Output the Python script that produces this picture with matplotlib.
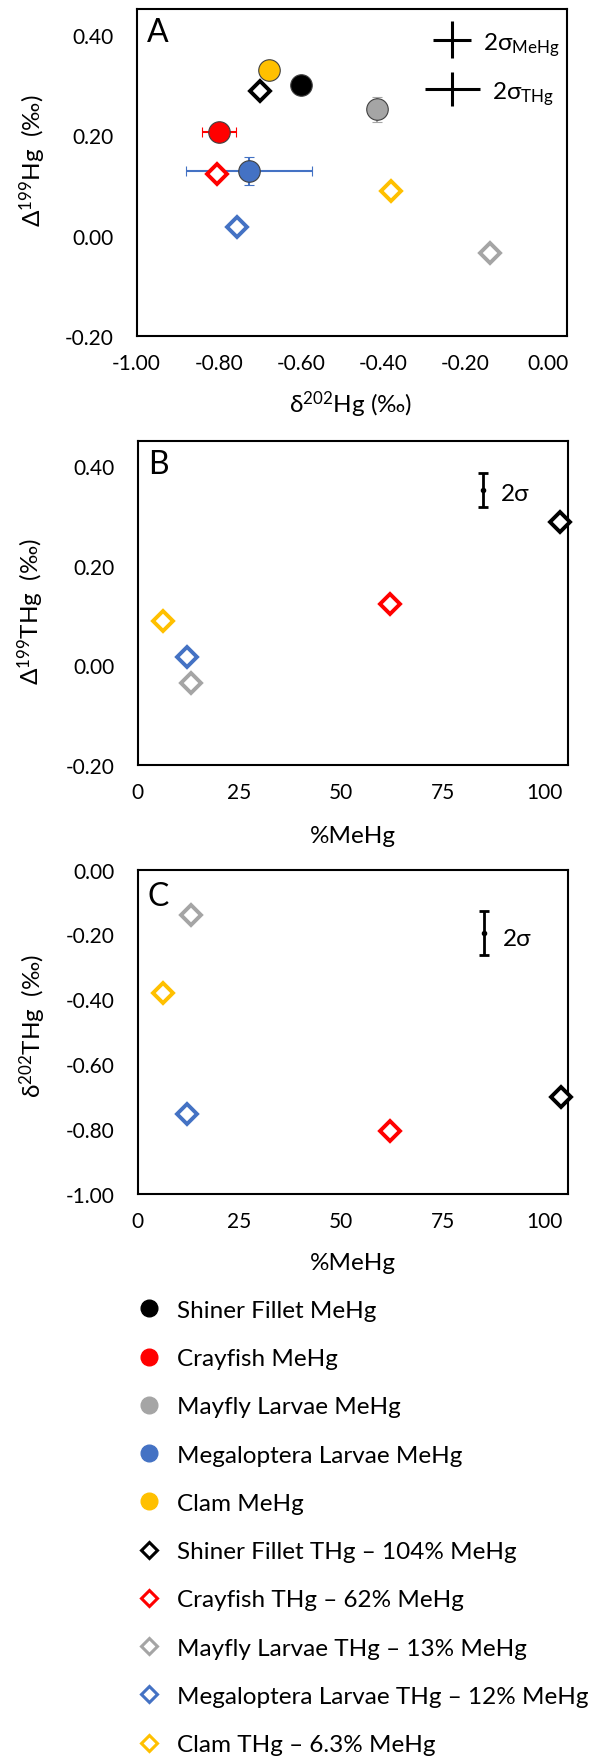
import matplotlib.pyplot as plt
from matplotlib.lines import Line2D
from matplotlib.ticker import FormatStrFormatter, MultipleLocator

plt.rcParams['font.family'] = ['Lato', 'DejaVu Sans']
plt.rcParams['axes.unicode_minus'] = False
plt.rcParams['mathtext.default'] = 'regular'

# --- data ---
names = ["Shiner Fillet", "Crayfish", "Mayfly Larvae", "Megaloptera Larvae", "Clam"]
colors = ["#000000", "#FF0000", "#A5A5A5", "#4472C4", "#FFC000"]

# MeHg (circles, panel A)
mehg_d202 = [-0.60, -0.80, -0.414, -0.727, -0.678]
mehg_D199 = [0.301, 0.207, 0.252, 0.129, 0.331]
mehg_d202_err = [0.02, 0.042, 0.02, 0.153, 0.02]
mehg_D199_err = [0.01, 0.01, 0.025, 0.027, 0.01]

# THg (diamonds)
thg_d202 = [-0.70, -0.805, -0.14, -0.755, -0.38]
thg_D199 = [0.289, 0.124, -0.035, 0.017, 0.089]
pct_mehg = [104, 62, 13, 12, 6.3]
pct_text = ["104%", "62%", "13%", "12%", "6.3%"]

# analytical 2 sigma
sig_mehg = (0.046, 0.037)   # (d202, D199)
sig_thg = (0.067, 0.034)

fig = plt.figure(figsize=(5.95, 17.58), dpi=100)

axA = fig.add_axes([0.2296, 0.8083, 0.724, 0.186])
axB = fig.add_axes([0.2316, 0.5643, 0.7226, 0.1845])
axC = fig.add_axes([0.2316, 0.3203, 0.7238, 0.1845])

circ = dict(marker="o", ms=15.5, mec="#404040", mew=0.8, ls="none")
diam = dict(marker="D", ms=10.3, mfc="white", mew=2.8, ls="none")

# panel A
for i in range(5):
    axA.errorbar(mehg_d202[i], mehg_D199[i], xerr=mehg_d202_err[i], yerr=mehg_D199_err[i],
                 color=colors[i], mfc=colors[i], elinewidth=1.5, capsize=3.6, capthick=1.5,
                 zorder=3, **circ)
for i in range(5):
    axA.plot(thg_d202[i], thg_D199[i], mec=colors[i], zorder=4, **diam)

axA.errorbar(-0.232, 0.391, xerr=sig_mehg[0], yerr=sig_mehg[1], color="black", lw=2.2, capsize=0)
axA.errorbar(-0.232, 0.292, xerr=sig_thg[0], yerr=sig_thg[1], color="black", lw=2.2, capsize=0)
axA.text(0.805, 0.878, r"2σ$_{MeHg}$", transform=axA.transAxes, fontsize=17.5, va="baseline")
axA.text(0.824, 0.727, r"2σ$_{THg}$", transform=axA.transAxes, fontsize=17.5, va="baseline")

axA.set_xlim(-1.0, 0.048)
axA.set_ylim(-0.2, 0.452)
axA.xaxis.set_major_locator(MultipleLocator(0.2))
axA.yaxis.set_major_locator(MultipleLocator(0.2))
axA.set_xlabel(r"δ$^{202}$Hg (‰)", fontsize=17.5)
axA.set_ylabel(r"Δ$^{199}$Hg  (‰)", fontsize=17.5)
axA.xaxis.set_label_coords(0.497, -0.208)
axA.yaxis.set_label_coords(-0.242, 0.54)

# panel B
for i in range(5):
    axB.plot(pct_mehg[i], thg_D199[i], mec=colors[i], zorder=4, clip_on=False, **diam)
axB.errorbar(85, 0.352, yerr=sig_thg[1], color="black", marker="o", ms=3,
             lw=2, capsize=3.6, capthick=2)
axB.text(0.844, 0.817, "2σ", transform=axB.transAxes, fontsize=17.5, va="baseline")
axB.set_xlim(0, 105.8)
axB.set_ylim(-0.2, 0.452)
axB.xaxis.set_major_locator(MultipleLocator(25))
axB.yaxis.set_major_locator(MultipleLocator(0.2))
axB.set_xlabel("%MeHg", fontsize=17.5)
axB.set_ylabel(r"Δ$^{199}$THg  (‰)", fontsize=17.5)
axB.xaxis.set_label_coords(0.50, -0.216)
axB.yaxis.set_label_coords(-0.25, 0.476)

# panel C
for i in range(5):
    axC.plot(pct_mehg[i], thg_d202[i], mec=colors[i], zorder=4, clip_on=False, **diam)
axC.errorbar(85, -0.195, yerr=sig_thg[0], color="black", marker="o", ms=3,
             lw=2, capsize=3.6, capthick=2)
axC.text(0.848, 0.768, "2σ", transform=axC.transAxes, fontsize=17.5, va="baseline")
axC.set_xlim(0, 105.8)
axC.set_ylim(-1.0, 0.0)
axC.xaxis.set_major_locator(MultipleLocator(25))
axC.yaxis.set_major_locator(MultipleLocator(0.2))
axC.set_xlabel("%MeHg", fontsize=17.5)
axC.set_ylabel(r"δ$^{202}$THg  (‰)", fontsize=17.5)
axC.xaxis.set_label_coords(0.50, -0.213)
axC.yaxis.set_label_coords(-0.245, 0.52)

for ax, letter, ly in [(axA, "A", 0.929), (axB, "B", 0.928), (axC, "C", 0.92)]:
    ax.text(0.048, ly, letter, transform=ax.transAxes, fontsize=23, ha="center", va="center")
    ax.yaxis.set_major_formatter(FormatStrFormatter("%.2f"))
    ax.tick_params(length=0, labelsize=15)
    ax.tick_params(axis="y", pad=16.5)
    ax.tick_params(axis="x", pad=12)
    ax.xaxis.label.set_va("center")
    ax.yaxis.label.set_va("center")
    for s in ax.spines.values():
        s.set_linewidth(1.5)

axB.xaxis.set_major_formatter(FormatStrFormatter("%d"))
axC.xaxis.set_major_formatter(FormatStrFormatter("%d"))
axA.xaxis.set_major_formatter(FormatStrFormatter("%.2f"))

# legend
handles = []
labels = []
for i in range(5):
    handles.append(Line2D([], [], marker="o", ls="none", ms=12, color=colors[i]))
    labels.append(f"{names[i]} MeHg")
for i in range(5):
    handles.append(Line2D([], [], marker="D", ls="none", ms=8.5, mfc="white",
                          mec=colors[i], mew=2.2))
    labels.append(f"{names[i]} THg – {pct_text[i]} MeHg")

fig.legend(handles, labels, loc="upper left", bbox_to_anchor=(0.2305, 0.2600),
           frameon=False, fontsize=17.5, labelspacing=1.12, handlelength=1.0,
           handletextpad=0.627, borderpad=0, borderaxespad=0)

fig.savefig("out.png", dpi=100)
